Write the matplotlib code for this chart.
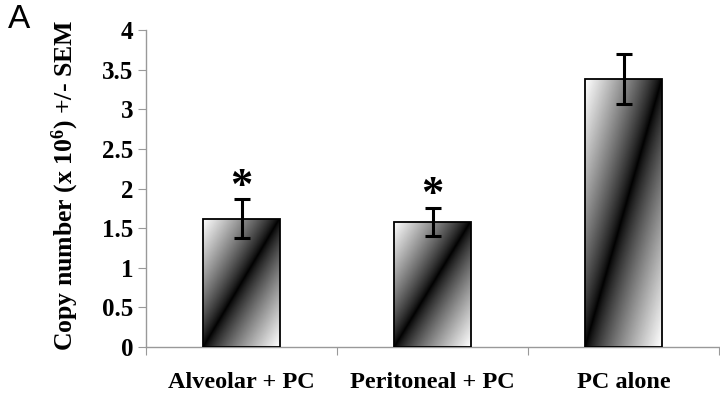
import numpy as np
import matplotlib
matplotlib.use("Agg")
import matplotlib.pyplot as plt

plt.rcParams['font.family'] = 'Liberation Serif'
plt.rcParams['font.weight'] = 'bold'
plt.rcParams['mathtext.fontset'] = 'custom'
plt.rcParams['mathtext.rm'] = 'Liberation Serif:bold'
plt.rcParams['mathtext.default'] = 'rm'

# values
groups = ['Alveolar + PC', 'Peritoneal + PC', 'PC alone']
copies = [1.62, 1.58, 3.38]
sem = [0.25, 0.18, 0.32]
signif = [True, True, False]
yticks = [0, 0.5, 1, 1.5, 2, 2.5, 3, 3.5, 4]

fig = plt.figure(figsize=(7.2, 3.94), dpi=100)
ax = fig.add_axes([146/720, 47/394, 573/720, 317/394])

x = np.arange(len(groups))
w = 0.4
bars = ax.bar(x, copies, width=w, color='none', edgecolor='black', linewidth=1.3, zorder=3)

# diagonal black band gradient inside each bar
u, v = np.meshgrid(np.linspace(0, 1, 100), np.linspace(0, 1, 200))
grad = np.abs(u - v) ** 0.8
for b in bars:
    x0, h = b.get_x(), b.get_height()
    im = ax.imshow(grad, cmap='gray', origin='lower', aspect='auto', vmin=0, vmax=1,
                   extent=[x0, x0 + b.get_width(), 0, h], zorder=2, interpolation='bilinear')
    im.set_clip_path(b)

ax.errorbar(x, copies, yerr=sem, fmt='none', ecolor='black', elinewidth=2.2,
            capsize=6, capthick=2.2, zorder=4)

for xi, c, s, sig in zip(x, copies, sem, signif):
    if sig:
        ax.text(xi, c + s - 0.1, '*', ha='center', va='bottom', fontsize=32, fontweight='bold')

ax.set_xlim(-0.5, 2.5)
ax.set_ylim(0, 4)
ax.set_yticks(yticks)
ax.set_yticklabels(['%g' % t for t in yticks])
ax.set_xticks([-0.5, 0.5, 1.5, 2.5])
ax.set_xticklabels([])
ax.set_xticks(x, minor=True)
ax.set_xticklabels(groups, minor=True)
ax.tick_params(axis='x', which='minor', length=0, pad=18, labelsize=17.5)
ax.tick_params(axis='x', which='major', length=6, color='#999999')
ax.tick_params(axis='y', length=6, color='#999999', labelsize=18, pad=3)

for sp in ['top', 'right']:
    ax.spines[sp].set_visible(False)
for sp in ['left', 'bottom']:
    ax.spines[sp].set_color('#999999')
    ax.spines[sp].set_linewidth(1.0)

ax.set_ylabel('Copy number (x 10$^{6}$) +/- SEM', fontsize=18.5, fontweight='bold')
ax.yaxis.set_label_coords(-0.113, 0.51)

fig.text(8/720, 1 - 4/394, 'A', fontsize=24, fontweight='normal',
         family='Liberation Sans', ha='left', va='top')

fig.savefig('out.png', dpi=100)
